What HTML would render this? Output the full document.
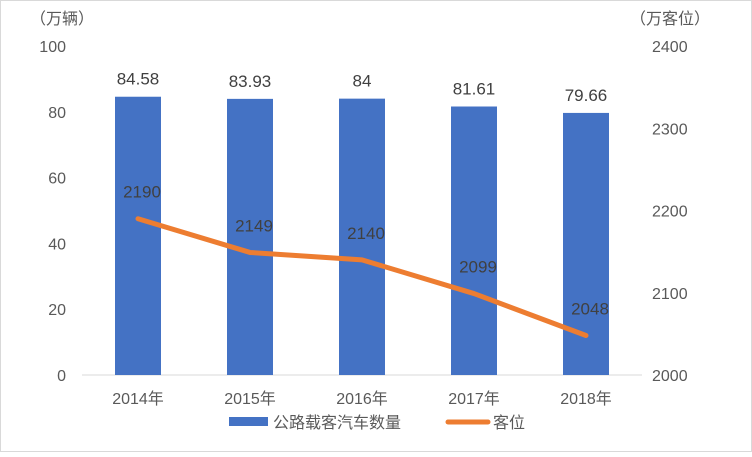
<!DOCTYPE html>
<html><head><meta charset="utf-8"><style>
html,body{margin:0;padding:0;background:#fff}
svg text{font-family:"Liberation Sans","Noto Sans CJK SC",sans-serif;fill:#595959}
</style></head><body>
<svg width="752" height="452" xmlns="http://www.w3.org/2000/svg">
<rect x="0.5" y="0.5" width="751" height="451" fill="#fff" stroke="#d9d9d9"/>
<g id="g"></g>
</svg>
<script>
const categories=["2014年","2015年","2016年","2017年","2018年"];
const vehicles=[84.58,83.93,84,81.61,79.66];
const vehicleLabels=["84.58","83.93","84","81.61","79.66"];
const seats=[2190,2149,2140,2099,2048];
const leftTicks=[0,20,40,60,80,100];
const rightTicks=[2000,2100,2200,2300,2400];
const NS="http://www.w3.org/2000/svg";
const g=document.getElementById('g');
const y0=375,y1=46;
const yL=v=>y0-(v/100)*(y0-y1);
const yR=v=>y0-((v-2000)/400)*(y0-y1);
const xC=i=>138+i*112;
function el(t,a,txt){const e=document.createElementNS(NS,t);for(const k in a)e.setAttribute(k,a[k]);if(txt!==undefined)e.textContent=txt;g.appendChild(e);return e;}
let e;
e=el('line',{x1:82,x2:642,y1:y0,y2:y0,stroke:'#d9d9d9'});

leftTicks.forEach(v=>{e=el('text',{x:66,y:yL(v)+6,'text-anchor':'end','font-size':16},String(v));
});
rightTicks.forEach(v=>{e=el('text',{x:652,y:yR(v)+6,'font-size':16},String(v));
});
e=el('text',{x:30,y:24,'font-size':16},'（万辆）');

e=el('text',{x:630,y:24,'font-size':16},'（万客位）');

categories.forEach((c,i)=>{
 e=el('rect',{x:xC(i)-23,y:yL(vehicles[i]),width:46,height:y0-yL(vehicles[i]),fill:'#4472c4'});
 
 e=el('text',{x:xC(i),y:yL(vehicles[i])-12,'text-anchor':'middle','font-size':17,style:'fill:#404040'},vehicleLabels[i]);
 
 e=el('text',{x:xC(i),y:404,'text-anchor':'middle','font-size':16},c);
 
});
e=el('polyline',{points:seats.map((v,i)=>xC(i)+','+yR(v)).join(' '),fill:'none',stroke:'#ed7d31','stroke-width':5,'stroke-linecap':'round','stroke-linejoin':'round'});

seats.forEach((v,i)=>{e=el('text',{x:xC(i)+4,y:yR(v)-21,'text-anchor':'middle','font-size':17,style:'fill:#404040'},String(v));
});
e=el('rect',{x:229,y:417,width:39,height:9,fill:'#4472c4'});

e=el('text',{x:273,y:428,'font-size':16},'公路载客汽车数量');

e=el('line',{x1:448,x2:488,y1:422,y2:422,stroke:'#ed7d31','stroke-width':5,'stroke-linecap':'round'});

e=el('text',{x:493,y:428,'font-size':16},'客位');

</script>
</body></html>
